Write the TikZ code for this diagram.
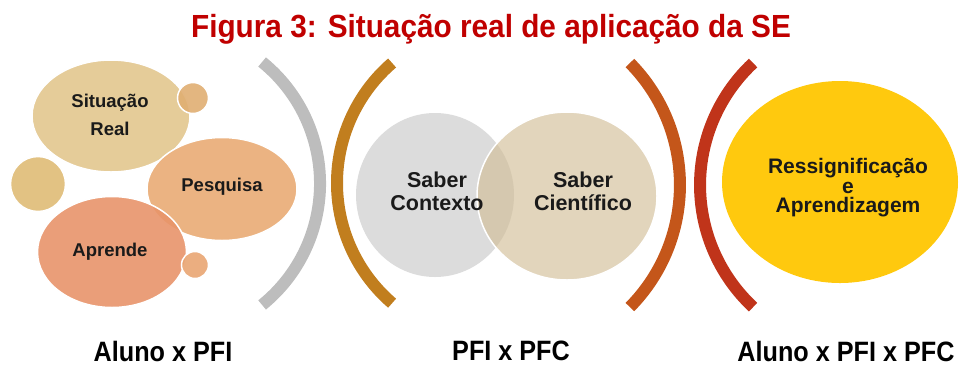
\documentclass[tikz,border=0pt]{standalone}
\usepackage{fontspec}
\setmainfont{Liberation Sans}
\newfontfamily\titlefont[FakeStretch=0.93]{Liberation Sans}
\newfontfamily\labfont[FakeStretch=0.9]{Liberation Sans}
\usetikzlibrary{shapes.geometric}
\definecolor{titlered}{HTML}{C00000}
\definecolor{cSit}{HTML}{E2C68E}
\definecolor{cSmallA}{HTML}{E0AE72}
\definecolor{cLeft}{HTML}{DFBB76}
\definecolor{cPesq}{HTML}{E9AB74}
\definecolor{cApr}{HTML}{E8946A}
\definecolor{cSmallB}{HTML}{E9A572}
\definecolor{cGrayArc}{HTML}{BDBDBD}
\definecolor{cBrownArc}{HTML}{C17E1E}
\definecolor{cOrangeArc}{HTML}{C4561A}
\definecolor{cRedArc}{HTML}{C0341A}
\definecolor{cCtx}{HTML}{DCDCDC}
\definecolor{cCient}{HTML}{D2BE98}
\definecolor{cYellow}{HTML}{FFC90E}
\definecolor{txt}{HTML}{1A1A1A}
\begin{document}
\begin{tikzpicture}[x=1pt,y=-1pt,
  blob/.style={shape=ellipse, draw=white, line width=1.5pt, inner sep=0pt, fill opacity=0.9, text opacity=1},
  bracket/.style={line width=12pt, line cap=butt},
  inner/.style={font=\bfseries\fontsize{18.5}{28}\selectfont, text=txt, align=center, inner sep=0pt},
  venntext/.style={font=\bfseries\fontsize{21.5}{23}\selectfont, text=txt, align=center, inner sep=0pt},
  bottomlab/.style={font=\labfont\bfseries\fontsize{28}{32}\selectfont, text=black, inner sep=0pt}]
\useasboundingbox (0,0) rectangle (964,368);

% title
\node[inner sep=0pt, text=titlered, font=\titlefont\bfseries\fontsize{32}{36}\selectfont] (title) at (491,29) {Figura 3: Situação real de aplicação da SE};

% left cluster
\node[blob, fill=cSit, minimum width=158pt, minimum height=112pt] (sit) at (111,116) {};
\node[blob, fill=cSmallA, minimum width=31pt, minimum height=31pt] (smallA) at (193,98) {};
\node[blob, fill=cLeft, minimum width=55pt, minimum height=55pt] (leftc) at (38,184) {};
\node[blob, fill=cPesq, minimum width=150pt, minimum height=103pt] (pesq) at (222,189) {};
\node[blob, fill=cApr, minimum width=149pt, minimum height=111pt] (apr) at (112,252) {};
\node[blob, fill=cSmallB, minimum width=27pt, minimum height=27pt] (smallB) at (195,265) {};
\node[inner] (sitT) at (110,115) {Situação\\Real};
\node[inner] (pesqT) at (222,187) {Pesquisa};
\node[inner] (aprT) at (110,252) {Aprende};

% brackets
\draw[bracket, cGrayArc] (262.1,62) arc[start angle=-51, end angle=51, radius=156.3];
\draw[bracket, cBrownArc] (392.1,63) arc[start angle=229.3, end angle=130.7, radius=158.4];
\draw[bracket, cOrangeArc] (629.9,63) arc[start angle=-44.6, end angle=44.6, radius=173.8];
\draw[bracket, cRedArc] (753.1,63) arc[start angle=227, end angle=133, radius=166.9];

% venn
\node[shape=ellipse, fill=cCtx, minimum width=158pt, minimum height=164pt, inner sep=0pt] (ctx) at (435,195) {};
\node[shape=ellipse, fill=cCient, fill opacity=0.65, draw=white, line width=1.5pt, minimum width=180pt, minimum height=168pt, inner sep=0pt] (cient) at (567,196) {};
\node[venntext] (ctxT) at (437,191) {Saber\\Contexto};
\node[venntext] (cientT) at (583,191) {Saber\\Científico};

% result
\node[shape=ellipse, fill=cYellow, minimum width=236pt, minimum height=202pt, inner sep=0pt] (res) at (840,182) {};
\node[inner sep=0pt, align=center, text=txt, font=\bfseries\fontsize{21}{19.5}\selectfont] (resT) at (848,188) {Ressignificação\\e\\Aprendizagem};

% bottom labels
\node[bottomlab] (l1) at (163,351) {Aluno x PFI};
\node[bottomlab] (l2) at (511,351) {PFI x PFC};
\node[bottomlab] (l3) at (846,351) {Aluno x PFI x PFC};
\end{tikzpicture}
\end{document}
